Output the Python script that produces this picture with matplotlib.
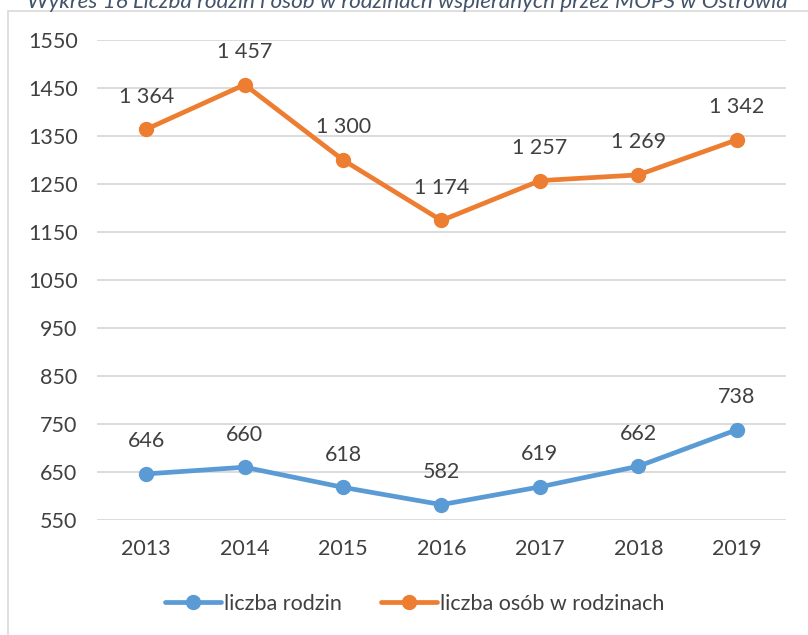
import matplotlib
matplotlib.use("Agg")
import matplotlib.pyplot as plt
from matplotlib.patches import Rectangle

years = ["2013", "2014", "2015", "2016", "2017", "2018", "2019"]
rodziny = [646, 660, 618, 582, 619, 662, 738]
osoby = [1364, 1457, 1300, 1174, 1257, 1269, 1342]
yticks = [550, 650, 750, 850, 950, 1050, 1150, 1250, 1350, 1450, 1550]
title = "Wykres 16 Liczba rodzin i osób w rodzinach wspieranych przez MOPS w Ostrowia"
series_names = ["liczba rodzin", "liczba osób w rodzinach"]

BLUE = "#5B9BD5"
ORANGE = "#ED7D31"
TXT = "#404040"

plt.rcParams['font.family'] = ['Lato', 'DejaVu Sans']

W, H = 808, 635
fig = plt.figure(figsize=(W / 100, H / 100), dpi=100)

# chart frame
fig.patches.append(Rectangle((8 / W, -0.05), 1.2, 1 - 11 / H + 0.05,
                             transform=fig.transFigure, fill=False,
                             edgecolor="#D9D9D9", linewidth=1.2))

ax = fig.add_axes([97 / W, 1 - 520 / H, (786 - 97) / W, (520 - 40) / H])
x = list(range(len(years)))

ax.plot(x, rodziny, color=BLUE, linewidth=3.4, marker="o", markersize=10,
        solid_capstyle="round", label=series_names[0], zorder=3)
ax.plot(x, osoby, color=ORANGE, linewidth=3.4, marker="o", markersize=10,
        solid_capstyle="round", label=series_names[1], zorder=3)

def fmt(v):
    return f"{v:,}".replace(",", " ")

FS = 15.5
for xi, v in zip(x, rodziny):
    ax.annotate(fmt(v), (xi, v), xytext=(0, 23.5), textcoords="offset points",
                ha="center", va="center", fontsize=FS, color=TXT)
for xi, v in zip(x, osoby):
    ax.annotate(fmt(v), (xi, v), xytext=(0, 23.5), textcoords="offset points",
                ha="center", va="center", fontsize=FS, color=TXT)

ax.set_xlim(-0.5, len(years) - 0.5)
ax.set_ylim(550, 1550)
ax.set_yticks(yticks)
ax.set_xticks(x)
ax.set_xticklabels(years)
ax.tick_params(axis="both", length=0, labelsize=FS, labelcolor=TXT)
ax.tick_params(axis="y", pad=14)
ax.tick_params(axis="x", pad=14)
ax.grid(axis="y", color="#D9D9D9", linewidth=1.3)
ax.set_axisbelow(True)
for s in ax.spines.values():
    s.set_visible(False)
ax.patch.set_alpha(0)

leg = fig.legend(loc="center", bbox_to_anchor=(415 / W, 1 - 604 / H), ncol=2,
                 frameon=False, fontsize=FS, handlelength=2.6,
                 handletextpad=0.15, columnspacing=1.8, labelcolor=TXT)

t = fig.text(27 / W, 1 - 8 / H, title, ha="left", va="baseline",
             fontsize=15, style="italic", color="#44546A")
fig.canvas.draw()
bb = t.get_window_extent()
target = 790 - 27
t.set_fontsize(15 * target / bb.width)

fig.savefig("out.png", dpi=100)
